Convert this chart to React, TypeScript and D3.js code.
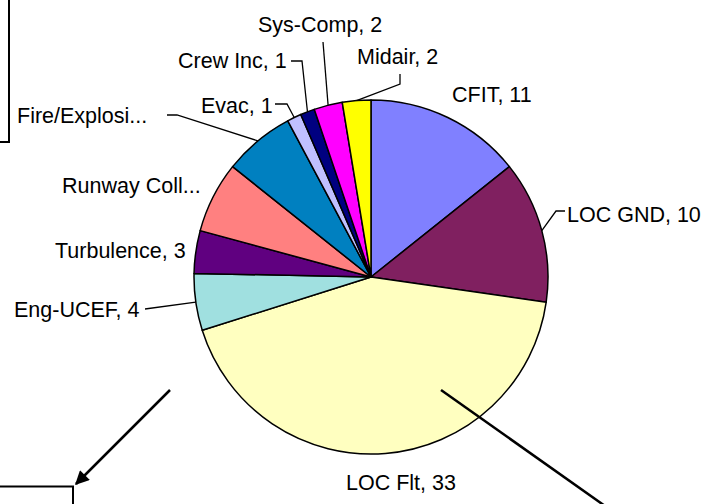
import React from "react";
import * as d3 from "d3";

const categories = ["CFIT", "LOC GND", "LOC Flt", "Eng-UCEF", "Turbulence", "Runway Coll...", "Fire/Explosi...", "Evac", "Crew Inc", "Sys-Comp", "Midair"];
const values = [11, 10, 33, 4, 3, 5, 5, 1, 1, 2, 2];
const labelTexts = ["CFIT, 11", "LOC GND, 10", "LOC Flt, 33", "Eng-UCEF, 4", "Turbulence, 3", "Runway Coll...", "Fire/Explosi...", "Evac, 1", "Crew Inc, 1", "Sys-Comp, 2", "Midair, 2"];
const colors = ["#8080FF", "#802060", "#FFFFC0", "#A0E0E0", "#600080", "#FF8080", "#0080C0", "#C0C0FF", "#000080", "#FF00FF", "#FFFF00"];

// layout: label anchor (text start x, baseline y) and leader path prefix (null = no leader)
const labelLayout: { x: number; y: number; leader: [number, number][] | null }[] = [
  { x: 452, y: 102, leader: null },
  { x: 567, y: 222, leader: [[565, 211], [556, 211]] },
  { x: 346, y: 490, leader: null },
  { x: 14, y: 317, leader: [[145, 309]] },
  { x: 55, y: 258, leader: null },
  { x: 62, y: 193, leader: null },
  { x: 17, y: 123, leader: [[167, 115], [177, 115]] },
  { x: 201, y: 113, leader: [[275, 104], [287, 104]] },
  { x: 178, y: 68, leader: [[291, 61], [302, 61]] },
  { x: 258, y: 32, leader: [[323, 42]] },
  { x: 357, y: 64, leader: [[400, 74], [400, 84]] },
];

const W = 711;
const H = 504;
const cx = 371;
const cy = 277;
const R = 177;

export default function App() {
  const pie = d3.pie<number>().sort(null).startAngle(0).endAngle(2 * Math.PI);
  const arcs = pie(values);
  const arc = d3.arc<d3.PieArcDatum<number>>().innerRadius(0).outerRadius(R);
  const line = d3.line<[number, number]>();

  return (
    <svg width={W} height={H} style={{ position: "absolute", left: 0, top: 0, background: "#fff" }} fontFamily="'Liberation Sans', Arial, sans-serif">
      <defs>
        <marker id="ah" viewBox="0 0 10 10" refX="9" refY="5" markerWidth="16" markerHeight="14" markerUnits="userSpaceOnUse" orient="auto">
          <path d="M0,0 L10,5 L0,10 z" fill="#000" />
        </marker>
      </defs>
      {/* boxes */}
      <path d="M9,0 L9,142 L0,142" fill="none" stroke="#000" strokeWidth={2} />
      <path d="M0,486.5 L73,486.5 L73,504" fill="none" stroke="#000" strokeWidth={2} />
      {/* pie */}
      <g transform={`translate(${cx},${cy})`}>
        {arcs.map((a, i) => (
          <path key={categories[i]} d={arc(a) || ""} fill={colors[i]} stroke="#000" strokeWidth={1.5} strokeLinejoin="round" />
        ))}
      </g>
      {/* leaders */}
      {arcs.map((a, i) => {
        const lay = labelLayout[i];
        if (!lay.leader) return null;
        const mid = (a.startAngle + a.endAngle) / 2;
        const end: [number, number] = [cx + R * Math.sin(mid), cy - R * Math.cos(mid)];
        const pts = [...lay.leader, end];
        return <path key={"l" + i} d={line(pts) || ""} fill="none" stroke="#000" strokeWidth={1.3} />;
      })}
      {/* labels */}
      {labelTexts.map((t, i) => (
        <text key={"t" + i} x={labelLayout[i].x} y={labelLayout[i].y} fontSize={21.5} fill="#000">
          {t}
        </text>
      ))}
      {/* arrows */}
      <line x1={170} y1={390} x2={76} y2={484} stroke="#000" strokeWidth={2.5} markerEnd="url(#ah)" />
      <line x1={441} y1={390} x2={622} y2={518} stroke="#000" strokeWidth={2.5} markerEnd="url(#ah)" />
    </svg>
  );
}
